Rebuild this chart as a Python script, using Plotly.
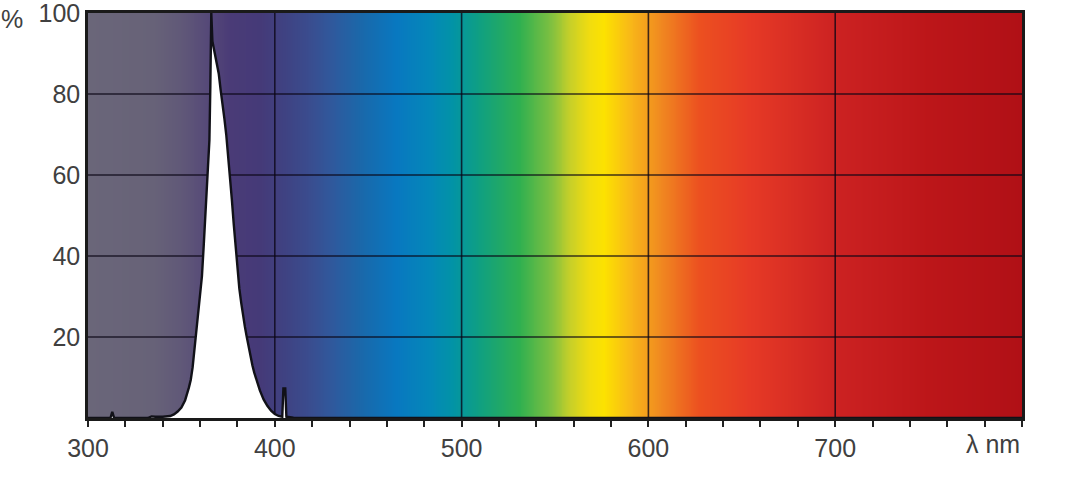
import plotly.graph_objects as go

# --- data -------------------------------------------------------------
wavelength_nm = [300, 310, 312, 313, 314, 320, 332, 334, 336, 340, 344, 346, 348,
                 350, 352, 354, 355, 356, 357, 358, 359, 360, 361, 362, 363, 364,
                 365, 365.5, 366, 366.6, 367, 368, 369, 370, 371, 372, 373, 374,
                 375, 376, 377, 378, 379, 380, 381, 382, 383, 384, 385, 386, 387,
                 388, 389, 390, 392, 394, 396, 398, 400, 402, 404, 404.6, 405.6,
                 406.2, 410, 420, 800]
intensity_pct = [0, 0, 0, 1.5, 0, 0, 0, 0.4, 0.3, 0.3, 0.5, 0.9, 1.6,
                 2.6, 4.4, 7.5, 9.4, 12.5, 17, 20.5, 25, 29, 35, 43, 52, 60,
                 68.6, 82, 100, 93, 92, 90, 88, 85, 81, 78, 74, 70,
                 65, 60, 54, 48, 42, 37, 32, 28.5, 25, 22.5, 20, 17.5, 15,
                 13, 11.2, 9.6, 6.8, 4.6, 3.0, 1.8, 1.0, 0.5, 0.3, 7.3, 7.3,
                 0.3, 0.1, 0, 0]

x_major = [300, 400, 500, 600, 700, 800]
x_labels = ["300", "400", "500", "600", "700", ""]
y_major = [20, 40, 60, 80, 100]
y_labels = ["20", "40", "60", "80", "100"]
grid_x = [400, 500, 600, 700]
grid_y = [20, 40, 60, 80]

# background spectrum colour stops (nm, colour)
spectrum_nm = [300, 335, 350, 362, 376, 392, 405, 418, 430, 446, 465, 483, 495,
               510, 531, 548, 558, 568, 576, 590, 606, 627, 654, 700, 750, 800]
spectrum_col = ["#6a6679", "#676278", "#605878", "#574b78", "#4a3b77", "#453a78",
                "#3f4282", "#3a4c8e", "#30589c", "#1a68aa", "#0878c0", "#0488b8",
                "#0293a6", "#10a080", "#30b050", "#80c040", "#c8d028", "#f0dc10",
                "#fce200", "#f8b818", "#f08a20", "#ec5020", "#e63a26", "#cc2222",
                "#bc1619", "#b01016"]

X0, X1 = 300, 800
Y0, Y1 = 0, 100
FONT = "Liberation Sans, Arial, sans-serif"
TXT = "#404040"
FS = 25

colorscale = [[(w - X0) / (X1 - X0), c] for w, c in zip(spectrum_nm, spectrum_col)]
hm_x = list(range(X0, X1 + 1))

fig = go.Figure()

fig.add_trace(go.Heatmap(
    x=hm_x, y=[Y0, Y1], z=[hm_x, hm_x],
    colorscale=colorscale, zmin=X0, zmax=X1, showscale=False,
    zsmooth="best", hoverinfo="skip"))

gx, gy = [], []
for v in grid_x:
    gx += [v, v, None]
    gy += [Y0, Y1, None]
for v in grid_y:
    gx += [X0, X1, None]
    gy += [v, v, None]
fig.add_trace(go.Scatter(x=gx, y=gy, mode="lines",
                         line=dict(color="rgba(10,5,20,0.78)", width=1.6),
                         hoverinfo="skip", showlegend=False))

fig.add_trace(go.Scatter(x=wavelength_nm, y=intensity_pct, mode="lines",
                         fill="tozeroy", fillcolor="white",
                         line=dict(color="#111118", width=2.4),
                         showlegend=False))

fig.update_layout(
    width=1068, height=484,
    margin=dict(l=88, r=46, t=13, b=66),
    paper_bgcolor="white", plot_bgcolor="white",
    font=dict(family=FONT, size=FS, color=TXT),
    showlegend=False,
)
fig.update_xaxes(range=[X0, X1], tickmode="array", tickvals=x_major, ticktext=x_labels,
                 ticks="outside", ticklen=6, tickwidth=1.5, tickcolor="#222",
                 minor=dict(tickmode="linear", tick0=300, dtick=20, ticks="outside",
                            ticklen=6, tickwidth=1.5, tickcolor="#222", showgrid=False),
                 showgrid=False, zeroline=False, showline=True, linecolor="#1a1a1a",
                 linewidth=2.5, mirror=True, automargin=False,
                 ticklabeloverflow="allow",
                 tickfont=dict(size=FS, color=TXT))
fig.update_yaxes(range=[Y0, Y1], tickmode="array", tickvals=y_major, ticktext=y_labels,
                 ticks="", showgrid=False, zeroline=False, showline=True,
                 linecolor="#1a1a1a", linewidth=2.5, mirror=True, automargin=False,
                 ticklabeloverflow="allow",
                 tickfont=dict(size=FS, color=TXT))

fig.add_annotation(text="%", xref="paper", yref="paper", x=-0.081, y=0.986,
                   xanchor="center", yanchor="middle", showarrow=False,
                   font=dict(size=FS, color=TXT))
fig.add_annotation(text="λ nm", xref="x", yref="paper", x=800, y=-0.064,
                   xanchor="right", yanchor="middle", showarrow=False,
                   font=dict(size=FS, color=TXT))

fig.write_html("out.html", config={"displayModeBar": False},
               post_script="document.body.style.margin='0px';")
